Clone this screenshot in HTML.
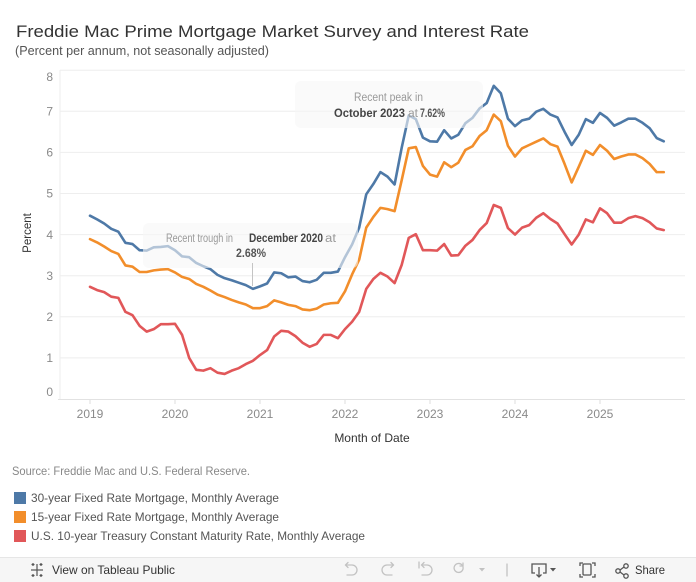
<!DOCTYPE html>
<html><head><meta charset="utf-8"><style>
html,body{margin:0;padding:0;background:#fff;}
svg{display:block;font-family:"Liberation Sans",sans-serif;}
</style></head><body>
<svg width="696" height="582" viewBox="0 0 696 582" xmlns="http://www.w3.org/2000/svg">
<rect x="0" y="0" width="696" height="582" fill="#fff"/>
<!-- Title -->
<text x="16" y="37" font-size="17" fill="#333" textLength="513" lengthAdjust="spacingAndGlyphs">Freddie Mac Prime Mortgage Market Survey and Interest Rate</text>
<text x="15" y="55" font-size="12.5" fill="#555" textLength="254" lengthAdjust="spacingAndGlyphs">(Percent per annum, not seasonally adjusted)</text>

<!-- gridlines -->
<g stroke="#eeeeee" stroke-width="1">
<line x1="60" y1="70.2" x2="685" y2="70.2"/>
<line x1="60" y1="111.3" x2="685" y2="111.3"/>
<line x1="60" y1="152.4" x2="685" y2="152.4"/>
<line x1="60" y1="193.5" x2="685" y2="193.5"/>
<line x1="60" y1="234.6" x2="685" y2="234.6"/>
<line x1="60" y1="275.7" x2="685" y2="275.7"/>
<line x1="60" y1="316.8" x2="685" y2="316.8"/>
<line x1="60" y1="357.9" x2="685" y2="357.9"/>
<line x1="60" y1="70" x2="60" y2="399"/>
</g>
<line x1="58" y1="399.5" x2="685" y2="399.5" stroke="#e2e2e2" stroke-width="1"/>
<g stroke="#dddddd" stroke-width="1">
<line x1="90" y1="400" x2="90" y2="404"/>
<line x1="175" y1="400" x2="175" y2="404"/>
<line x1="260" y1="400" x2="260" y2="404"/>
<line x1="345" y1="400" x2="345" y2="404"/>
<line x1="430" y1="400" x2="430" y2="404"/>
<line x1="515" y1="400" x2="515" y2="404"/>
<line x1="600" y1="400" x2="600" y2="404"/>
</g>

<!-- y tick labels -->
<g font-size="12" fill="#8a8a8a" text-anchor="end">
<text x="53" y="81">8</text>
<text x="53" y="115.5">7</text>
<text x="53" y="156.6">6</text>
<text x="53" y="197.7">5</text>
<text x="53" y="238.8">4</text>
<text x="53" y="279.9">3</text>
<text x="53" y="321">2</text>
<text x="53" y="362.1">1</text>
<text x="53" y="396">0</text>
</g>
<text transform="translate(31,233) rotate(-90)" font-size="11.5" fill="#333" text-anchor="middle">Percent</text>

<!-- x tick labels -->
<g font-size="12" fill="#8a8a8a" text-anchor="middle">
<text x="90" y="418">2019</text>
<text x="175" y="418">2020</text>
<text x="260" y="418">2021</text>
<text x="345" y="418">2022</text>
<text x="430" y="418">2023</text>
<text x="515" y="418">2024</text>
<text x="600" y="418">2025</text>
</g>
<text x="372" y="442" font-size="12" fill="#333" text-anchor="middle">Month of Date</text>

<!-- series -->
<g transform="translate(90,399) scale(7.0833,-41.1)" fill="none" stroke-linejoin="round" stroke-linecap="round">
<polyline vector-effect="non-scaling-stroke" stroke="#e15759" stroke-width="2.6" points="0,2.73 1,2.65 2,2.60 3,2.49 4,2.46 5,2.12 6,2.04 7,1.78 8,1.64 9,1.70 10,1.82 11,1.82 12,1.83 13,1.56 14,1.00 15,0.71 16,0.69 17,0.75 18,0.64 19,0.61 20,0.69 21,0.75 22,0.85 23,0.93 24,1.07 25,1.19 26,1.52 27,1.66 28,1.64 29,1.53 30,1.37 31,1.27 32,1.34 33,1.56 34,1.56 35,1.48 36,1.70 37,1.88 38,2.12 39,2.68 40,2.92 41,3.07 42,2.98 43,2.82 44,3.26 45,3.92 46,4.01 47,3.62 48,3.62 49,3.61 50,3.77 51,3.49 52,3.50 53,3.73 54,3.87 55,4.11 56,4.28 57,4.72 58,4.65 59,4.16 60,4.00 61,4.17 62,4.23 63,4.41 64,4.52 65,4.38 66,4.27 67,4.01 68,3.76 69,4.00 70,4.37 71,4.30 72,4.64 73,4.52 74,4.29 75,4.29 76,4.40 77,4.45 78,4.40 79,4.30 80,4.15 81,4.11"/>
<polyline vector-effect="non-scaling-stroke" stroke="#f28e2b" stroke-width="2.6" points="0,3.89 1,3.81 2,3.71 3,3.60 4,3.53 5,3.25 6,3.22 7,3.09 8,3.09 9,3.13 10,3.15 11,3.16 12,3.08 13,2.97 14,2.92 15,2.80 16,2.73 17,2.64 18,2.54 19,2.48 20,2.41 21,2.35 22,2.30 23,2.21 24,2.21 25,2.26 26,2.40 27,2.35 28,2.29 29,2.26 30,2.18 31,2.16 32,2.20 33,2.30 34,2.33 35,2.34 36,2.62 37,3.03 38,3.39 39,4.17 40,4.43 41,4.65 42,4.62 43,4.57 44,5.32 45,6.10 46,6.13 47,5.67 48,5.46 49,5.41 50,5.76 51,5.64 52,5.75 53,6.06 54,6.15 55,6.40 56,6.54 57,6.92 58,6.76 59,6.16 60,5.90 61,6.10 62,6.18 63,6.26 64,6.34 65,6.20 66,6.14 67,5.72 68,5.27 69,5.65 70,6.04 71,5.94 72,6.18 73,6.04 74,5.84 75,5.90 76,5.95 77,5.95 78,5.86 79,5.72 80,5.52 81,5.52"/>
<polyline vector-effect="non-scaling-stroke" stroke="#4e79a7" stroke-width="2.6" points="0,4.46 1,4.37 2,4.27 3,4.14 4,4.07 5,3.80 6,3.77 7,3.62 8,3.61 9,3.69 10,3.70 11,3.72 12,3.62 13,3.47 14,3.45 15,3.31 16,3.23 17,3.16 18,3.02 19,2.94 20,2.89 21,2.83 22,2.77 23,2.68 24,2.74 25,2.81 26,3.08 27,3.06 28,2.96 29,2.98 30,2.87 31,2.84 32,2.90 33,3.07 34,3.07 35,3.10 36,3.45 37,3.76 38,4.17 39,4.98 40,5.23 41,5.52 42,5.41 43,5.22 44,6.11 45,6.90 46,6.81 47,6.36 48,6.27 49,6.26 50,6.54 51,6.34 52,6.43 53,6.71 54,6.84 55,7.07 56,7.20 57,7.62 58,7.44 59,6.82 60,6.64 61,6.78 62,6.82 63,6.99 64,7.06 65,6.92 66,6.85 67,6.50 68,6.18 69,6.43 70,6.81 71,6.72 72,6.96 73,6.84 74,6.65 75,6.73 76,6.82 77,6.82 78,6.72 79,6.59 80,6.35 81,6.27"/>
</g>

<!-- annotation boxes -->
<rect x="143" y="223" width="215" height="45" rx="6" fill="rgba(246,246,246,0.6)"/>
<rect x="295" y="81" width="188" height="47" rx="6" fill="rgba(246,246,246,0.6)"/>
<line x1="252.5" y1="263" x2="252.5" y2="286" stroke="#c4c4c4" stroke-width="1"/>

<g font-size="11.5">
<text x="166" y="242" fill="#999" textLength="67" lengthAdjust="spacingAndGlyphs">Recent trough in</text>
<text x="249" y="242" fill="#444" font-weight="bold" textLength="74" lengthAdjust="spacingAndGlyphs">December 2020</text>
<text x="325" y="242" fill="#999" textLength="11" lengthAdjust="spacingAndGlyphs">at</text>
<text x="236" y="257" fill="#555" font-weight="bold" textLength="30" lengthAdjust="spacingAndGlyphs">2.68%</text>
<text x="354" y="101" fill="#999" textLength="69" lengthAdjust="spacingAndGlyphs">Recent peak in</text>
<text x="334" y="117" fill="#444" font-weight="bold" textLength="71" lengthAdjust="spacingAndGlyphs">October 2023</text>
<text x="408" y="117" fill="#999" textLength="10" lengthAdjust="spacingAndGlyphs">at</text>
<text x="420" y="117" fill="#555" font-weight="bold" textLength="25" lengthAdjust="spacingAndGlyphs">7.62%</text>
</g>

<!-- source & legend -->
<text x="12" y="475" font-size="12" fill="#888" textLength="238" lengthAdjust="spacingAndGlyphs">Source: Freddie Mac and U.S. Federal Reserve.</text>
<rect x="14" y="492" width="12" height="12" fill="#4e79a7"/>
<rect x="14" y="511" width="12" height="12" fill="#f28e2b"/>
<rect x="14" y="530" width="12" height="12" fill="#e15759"/>
<g font-size="12" fill="#555">
<text x="31" y="502" textLength="248" lengthAdjust="spacingAndGlyphs">30-year Fixed Rate Mortgage, Monthly Average</text>
<text x="31" y="521" textLength="248" lengthAdjust="spacingAndGlyphs">15-year Fixed Rate Mortgage, Monthly Average</text>
<text x="31" y="540" textLength="334" lengthAdjust="spacingAndGlyphs">U.S. 10-year Treasury Constant Maturity Rate, Monthly Average</text>
</g>

<!-- toolbar -->
<rect x="0" y="557" width="696" height="25" fill="#f6f6f6"/>
<line x1="0" y1="557.5" x2="696" y2="557.5" stroke="#e6e6e6"/>
<g stroke="#555" stroke-width="1.2" fill="none">
<line x1="37" y1="564" x2="37" y2="576"/><line x1="31" y1="570" x2="43" y2="570"/>
<line x1="33" y1="563" x2="33" y2="566"/><line x1="31.5" y1="564.5" x2="34.5" y2="564.5"/>
<line x1="41" y1="563" x2="41" y2="566"/><line x1="39.5" y1="564.5" x2="42.5" y2="564.5"/>
<line x1="33" y1="574" x2="33" y2="577"/><line x1="31.5" y1="575.5" x2="34.5" y2="575.5"/>
<line x1="41" y1="574" x2="41" y2="577"/><line x1="39.5" y1="575.5" x2="42.5" y2="575.5"/>
</g>
<text x="52" y="574" font-size="12" fill="#333" textLength="123" lengthAdjust="spacingAndGlyphs">View on Tableau Public</text>
<g stroke="#c2c2c2" stroke-width="1.3" fill="none" stroke-linecap="round">
<path d="M346 565 h6 a5 5 0 0 1 0 10 h-5"/><path d="M348 562.5 l-2.5 2.5 l2.5 2.5"/>
<path d="M393 565 h-6 a5 5 0 0 0 0 10 h5"/><path d="M391 562.5 l2.5 2.5 l-2.5 2.5"/>
<line x1="419" y1="562" x2="419" y2="568"/><path d="M422 565 h5 a5 5 0 0 1 0 10 h-5"/><path d="M424 562.5 l-2.5 2.5 l2.5 2.5"/>
<path d="M463 567 a4.5 4.5 0 1 1 -1 -2"/><path d="M463 563 v3 h-3"/>
<line x1="507" y1="564" x2="507" y2="576"/>
</g>
<path d="M479 568 h6 l-3 3.5 z" fill="#c2c2c2"/>
<g stroke="#555" stroke-width="1.3" fill="none">
<path d="M535 573 h-3 v-9 h14 v9 h-3"/><path d="M539 567 v10"/><path d="M536.5 574.5 l2.5 2.5 l2.5 -2.5"/>
<rect x="583" y="564" width="8" height="11" rx="1"/>
<path d="M580 566 v-3 h3 M592 563 h3 v3 M595 574 v3 h-3 M583 577 h-3 v-3"/>
<circle cx="618" cy="571" r="2.2"/><circle cx="626" cy="566" r="2.2"/><circle cx="626" cy="576" r="2.2"/>
<line x1="620" y1="570" x2="624" y2="567"/><line x1="620" y1="572" x2="624" y2="575"/>
</g>
<path d="M550 568 h6 l-3 3.5 z" fill="#555"/>
<text x="635" y="574" font-size="12" fill="#333" textLength="30" lengthAdjust="spacingAndGlyphs">Share</text>
</svg>
</body></html>
